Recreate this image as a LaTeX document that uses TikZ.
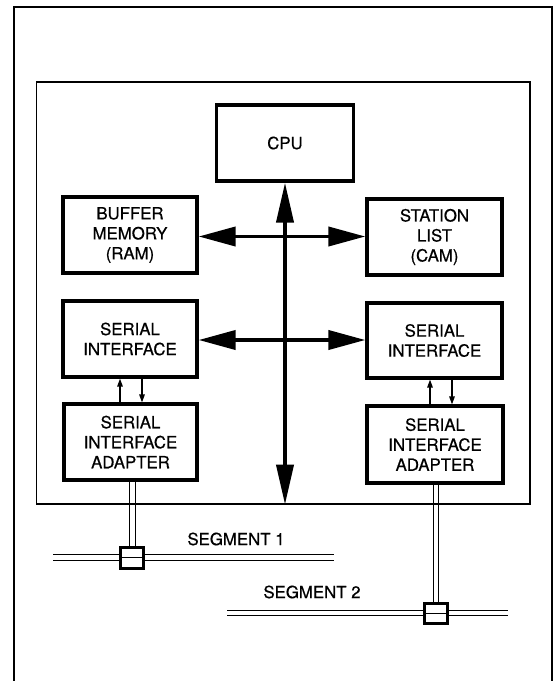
\documentclass[tikz,border=0pt]{standalone}
\usepackage{fontspec}
\setmainfont{TeX Gyre Heros}
\newfontfamily\scanfont{TeX Gyre Heros}[FakeBold=0.6]
\usetikzlibrary{arrows.meta}
\begin{document}
\begin{tikzpicture}[x=1pt,y=-1pt,
  blk/.style={draw,line width=3.2pt,inner sep=0pt,align=center,
    font=\scanfont\fontsize{16.8}{20}\selectfont},
  frame/.style={line width=1.3pt},
  bus/.style={line width=3.8pt,{Triangle[length=37pt,width=19pt]}-{Triangle[length=37pt,width=19pt]}},
  vbus/.style={line width=3.8pt,{Triangle[length=40pt,width=17pt]}-{Triangle[length=40pt,width=17pt]}},
  small/.style={line width=1.3pt,-{Triangle[length=8pt,width=5.5pt]}},
  wire/.style={line width=1pt},
  tap/.style={draw,fill=white,line width=3pt,inner sep=0pt},
  lbl/.style={inner sep=0pt,font=\scanfont\fontsize{16.8}{20}\selectfont}]
\useasboundingbox (0,0) rectangle (555,681);
% outer frame (open at bottom)
\draw[frame] (14,681) -- (14,7) -- (552,7) -- (552,681);
% inner frame
\node[draw,line width=1.3pt,minimum width=493.5pt,minimum height=422pt,inner sep=0pt] (board) at (283.25,293) {};
% blocks
\node[blk,minimum width=137pt,minimum height=76pt] (cpu) at (285,143) {CPU};
\node[blk,minimum width=134pt,minimum height=76pt] (buf) at (130,235) {BUFFER\\MEMORY\\(RAM)};
\node[blk,minimum width=135pt,minimum height=76pt] (sta) at (434.5,237) {STATION\\LIST\\(CAM)};
\node[blk,minimum width=134pt,minimum height=76pt] (sil) at (130,339) {SERIAL\\INTERFACE};
\node[blk,minimum width=135pt,minimum height=75pt] (sir) at (434.5,340.5) {SERIAL\\INTERFACE};
\node[blk,minimum width=133pt,minimum height=76pt] (sial) at (130.5,442) {SERIAL\\INTERFACE\\ADAPTER};
\node[blk,minimum width=136pt,minimum height=77pt] (siar) at (435,444.5) {SERIAL\\INTERFACE\\ADAPTER};
% bus
\draw[vbus] (cpu.south) -- (cpu.south |- board.south);
\draw[bus] (buf.east |- 0,236.5) -- (sta.west |- 0,236.5);
\draw[bus] (sil.east |- 0,340) -- (sir.west |- 0,340);
% small arrows
\draw[small] (sial.north -| 120,0) -- (sil.south -| 120,0);
\draw[small] (sil.south -| 142,0) -- (sial.north -| 142,0);
\draw[small] (siar.north -| 430,0) -- (sir.south -| 430,0);
\draw[small] (sir.south -| 452,0) -- (siar.north -| 452,0);
% segments
\coordinate (s1a) at (53,554);
\coordinate (s1b) at (334,554);
\coordinate (s1c) at (53,560);
\coordinate (s1d) at (334,560);
\draw[wire] (s1a) -- (s1b);
\draw[wire] (s1c) -- (s1d);
\coordinate (s2a) at (227,610);
\coordinate (s2b) at (508,610);
\coordinate (s2c) at (227,615.5);
\coordinate (s2d) at (508,615.5);
\draw[wire] (s2a) -- (s2b);
\draw[wire] (s2c) -- (s2d);
% taps
\node[tap,minimum width=23pt,minimum height=21pt] (tapl) at (132,557.5) {};
\node[tap,minimum width=23pt,minimum height=20pt] (tapr) at (436,613) {};
\draw[wire] (tapl.west) -- (tapl.east);
\draw[wire] (tapr.west) -- (tapr.east);
% cables
\draw[wire] (sial.south -| 129,0) -- (tapl.north -| 129,0);
\draw[wire] (sial.south -| 135,0) -- (tapl.north -| 135,0);
\draw[wire] (siar.south -| 433,0) -- (tapr.north -| 433,0);
\draw[wire] (siar.south -| 438.5,0) -- (tapr.north -| 438.5,0);
% labels
\node[lbl] (seg1) at (236,539) {SEGMENT 1};
\node[lbl] (seg2) at (312,592) {SEGMENT 2};
\end{tikzpicture}
\end{document}
